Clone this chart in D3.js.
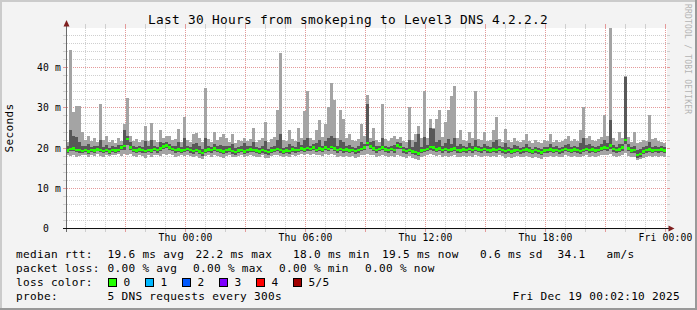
<!DOCTYPE html>
<html>
<head>
<meta charset="utf-8">
<script src="https://cdn.jsdelivr.net/npm/d3@7"></script>
<style>
  body { margin: 0; background: #f3f3f3; }
  text { font-family: "DejaVu Sans Mono", monospace; fill: #000; }
</style>
</head>
<body>
<div id="chart"></div>
<script>
// chart values
const title = "Last 30 Hours from smokeping to Level3 DNS 4.2.2.2";
const endTime = "2025-12-19 00:02:10";
const stepMinutes = 9; // 200 columns over 30 hours
const yTicks = [0, 10, 20, 30, 40];
const yLabels = ["0", "10 m", "20 m", "30 m", "40 m"];

// five sorted pings per step (ms): lowest, 2nd, median, 4th, highest
const pMin = [
  18.2, 18.0, 18.3, 17.9, 18.1, 18.4, 18.2, 17.8, 18.3, 18.0, 18.5, 18.1, 17.9, 18.3, 18.0, 18.4, 18.2, 18.5, 18.1, 18.6,
  18.4, 18.6, 18.0, 17.8, 18.2, 18.1, 17.6, 18.3, 17.9, 18.2, 18.4, 18.0, 18.5, 18.3, 18.6, 18.2, 17.9, 18.1, 18.3, 18.0,
  18.2, 18.0, 17.7, 18.1, 17.5, 17.2, 18.0, 18.3, 17.9, 18.2, 18.1, 17.8, 17.6, 18.0, 18.3, 17.9, 17.7, 18.0, 18.2, 17.8,
  18.1, 18.3, 18.0, 17.7, 17.9, 18.2, 17.6, 17.5, 18.0, 18.2, 18.4, 18.0, 17.8, 18.1, 17.9, 18.3, 18.0, 18.2, 18.5, 18.3,
  18.5, 18.3, 18.6, 18.2, 18.4, 18.1, 18.5, 18.3, 18.6, 18.2, 17.9, 18.1, 17.8, 18.0, 17.7, 18.0, 17.6, 17.9, 18.2, 18.4,
  18.6, 18.4, 18.2, 17.9, 18.1, 18.3, 18.0, 17.8, 18.1, 17.9, 18.3, 18.1, 17.8, 17.6, 18.0, 17.5, 17.3, 17.1, 17.8, 18.0,
  18.2, 18.5, 18.3, 18.0, 18.2, 17.9, 18.1, 17.8, 18.0, 18.3, 17.9, 17.7, 18.0, 17.8, 18.1, 17.9, 18.2, 18.0, 17.8, 18.1,
  18.0, 17.8, 18.1, 17.9, 18.2, 18.0, 17.6, 17.9, 17.5, 17.8, 18.0, 17.7, 17.9, 18.1, 17.8, 17.5, 17.9, 17.6, 17.3, 17.8,
  17.9, 18.1, 17.8, 18.0, 17.7, 17.9, 18.2, 18.0, 17.8, 18.1, 17.9, 17.7, 18.0, 18.2, 17.9, 18.1, 17.8, 18.0, 18.3, 18.4,
  18.3, 18.6, 18.1, 17.8, 18.0, 18.3, 18.8, 18.1, 17.7, 17.9, 17.0, 17.2, 17.6, 17.9, 18.0, 17.8, 18.0, 17.9, 18.1, 17.9
];
const pLow = [
  18.9, 19.2, 19.3, 19.0, 18.9, 18.8, 19.1, 18.6, 19.0, 18.8, 19.2, 19.0, 18.7, 19.0, 18.6, 19.1, 18.9, 19.1, 19.5, 19.6,
  20.8, 19.5, 19.0, 18.8, 19.1, 18.9, 18.7, 19.0, 18.8, 19.2, 18.9, 19.3, 19.8, 20.0, 19.6, 19.2, 18.9, 19.1, 18.8, 19.0,
  19.2, 18.9, 18.6, 19.0, 18.5, 18.1, 18.8, 19.1, 18.9, 19.3, 19.0, 18.7, 18.5, 18.9, 19.1, 18.6, 18.4, 18.8, 19.0, 18.5,
  18.9, 19.1, 19.0, 18.7, 18.6, 18.9, 18.6, 18.4, 18.8, 19.0, 19.2, 18.9, 18.6, 18.8, 18.6, 19.1, 18.9, 19.0, 19.3, 19.1,
  19.4, 19.2, 19.6, 19.0, 19.3, 19.1, 19.5, 19.2, 19.7, 19.3, 18.9, 19.2, 18.8, 19.1, 18.7, 19.0, 18.6, 18.9, 19.2, 19.6,
  20.5, 19.7, 19.3, 18.9, 19.2, 19.5, 19.0, 18.8, 19.2, 18.9, 19.9, 19.7, 18.8, 18.6, 19.0, 18.5, 18.3, 18.0, 18.7, 19.0,
  19.2, 19.6, 19.4, 19.0, 19.3, 18.9, 19.2, 18.8, 19.0, 19.3, 18.9, 18.7, 19.1, 18.8, 19.2, 18.9, 19.3, 19.0, 18.8, 19.2,
  18.9, 18.7, 19.1, 18.8, 19.2, 18.9, 18.6, 18.9, 18.5, 18.7, 19.0, 18.6, 18.8, 19.1, 18.7, 18.5, 18.9, 18.6, 18.2, 18.7,
  18.8, 19.1, 18.7, 19.0, 18.6, 18.9, 19.2, 19.0, 18.7, 19.1, 18.8, 18.6, 19.0, 19.2, 18.8, 19.1, 18.7, 19.0, 19.3, 19.6,
  19.4, 19.9, 19.1, 18.8, 19.0, 19.4, 21.0, 19.2, 18.7, 18.9, 17.6, 17.9, 18.5, 18.8, 19.1, 18.7, 19.0, 18.8, 19.1, 18.7
];
const median = [
  19.4, 19.8, 19.9, 19.6, 19.5, 19.3, 19.6, 19.2, 19.5, 19.4, 19.7, 19.6, 19.3, 19.5, 19.2, 19.6, 19.4, 19.6, 20.1, 20.5,
  22.2, 20.2, 19.6, 19.4, 19.7, 19.5, 19.3, 19.6, 19.4, 19.8, 19.5, 19.9, 20.4, 20.6, 20.2, 19.8, 19.5, 19.7, 19.4, 19.6,
  19.8, 19.5, 19.3, 19.6, 19.2, 18.8, 19.4, 19.7, 19.5, 19.9, 19.6, 19.4, 19.2, 19.5, 19.7, 19.3, 19.1, 19.4, 19.6, 19.2,
  19.5, 19.7, 19.6, 19.4, 19.2, 19.5, 19.3, 19.1, 19.4, 19.6, 19.8, 19.5, 19.2, 19.4, 19.3, 19.7, 19.5, 19.6, 19.9, 19.7,
  20.0, 19.8, 20.2, 19.6, 19.9, 19.7, 20.1, 19.8, 20.3, 19.9, 19.6, 19.8, 19.5, 19.7, 19.4, 19.6, 19.3, 19.5, 19.8, 20.2,
  21.3, 20.4, 19.9, 19.6, 19.8, 20.1, 19.7, 19.5, 19.8, 19.6, 20.6, 20.3, 19.5, 19.3, 19.6, 19.2, 19.0, 18.7, 19.4, 19.6,
  19.8, 20.3, 20.1, 19.7, 19.9, 19.6, 19.8, 19.5, 19.7, 19.9, 19.6, 19.4, 19.7, 19.5, 19.8, 19.6, 19.9, 19.7, 19.5, 19.8,
  19.6, 19.4, 19.7, 19.5, 19.8, 19.6, 19.3, 19.5, 19.2, 19.4, 19.6, 19.3, 19.5, 19.7, 19.4, 19.2, 19.5, 19.3, 18.9, 19.4,
  19.5, 19.7, 19.4, 19.6, 19.3, 19.5, 19.8, 19.6, 19.4, 19.7, 19.5, 19.3, 19.6, 19.8, 19.5, 19.7, 19.4, 19.6, 19.9, 20.2,
  20.0, 20.6, 19.8, 19.5, 19.7, 20.1, 22.0, 19.9, 19.4, 19.6, 18.3, 18.6, 19.2, 19.5, 19.7, 19.4, 19.6, 19.5, 19.7, 19.4
];
const pHigh = [
  20.5, 24.5, 23.0, 22.8, 21.5, 20.6, 20.4, 21.0, 20.3, 20.6, 20.5, 22.0, 20.2, 20.8, 20.0, 20.5, 20.2, 20.7, 20.8, 24.5,
  23.0, 21.5, 20.4, 20.3, 20.5, 20.2, 21.8, 20.4, 22.0, 20.6, 20.3, 21.5, 21.2, 21.5, 21.0, 20.6, 20.4, 21.6, 20.2, 22.5,
  20.6, 20.3, 21.0, 21.2, 20.4, 19.8, 22.5, 20.5, 20.3, 21.0, 20.4, 20.8, 20.6, 20.4, 20.5, 21.0, 20.0, 20.3, 20.5, 21.2,
  20.4, 20.6, 21.5, 20.2, 20.0, 20.4, 21.8, 19.9, 20.3, 20.6, 22.0, 23.5, 20.1, 20.3, 21.0, 20.5, 20.3, 21.4, 20.8, 22.0,
  22.5, 20.6, 20.9, 21.2, 22.0, 20.5, 21.8, 22.4, 23.0, 22.6, 20.4, 22.0, 21.5, 20.5, 20.8, 20.3, 20.1, 20.4, 21.5, 21.0,
  31.0, 21.5, 21.8, 20.4, 20.5, 22.5, 20.5, 20.2, 20.6, 20.8, 21.4, 21.2, 20.3, 20.0, 22.0, 20.2, 21.5, 23.5, 20.3, 22.8,
  20.7, 25.0, 24.8, 21.5, 22.0, 20.6, 21.3, 22.2, 21.0, 22.5, 20.5, 21.0, 20.4, 20.3, 21.2, 20.6, 22.0, 20.5, 20.3, 21.0,
  20.4, 20.2, 21.5, 22.0, 20.6, 20.3, 21.2, 20.3, 20.0, 20.8, 20.4, 20.1, 20.3, 21.0, 20.2, 19.9, 20.3, 20.1, 19.8, 20.2,
  20.3, 21.0, 20.2, 20.4, 20.1, 20.3, 20.7, 20.9, 20.2, 20.6, 20.3, 21.2, 22.5, 20.8, 21.0, 20.5, 20.2, 20.6, 21.0, 22.0,
  21.2, 27.0, 20.8, 20.3, 21.0, 21.0, 37.7, 20.9, 20.2, 20.5, 19.5, 19.8, 20.2, 20.4, 21.5, 20.3, 20.6, 20.3, 20.5, 20.2
];
const pMax = [
  21.5, 44.5, 29.0, 30.5, 30.5, 24.0, 22.0, 23.0, 21.8, 22.5, 21.6, 31.0, 22.0, 23.0, 21.4, 22.0, 21.3, 22.5, 21.8, 26.0,
  32.4, 23.0, 21.8, 22.2, 21.5, 22.0, 25.5, 21.7, 26.2, 22.0, 21.6, 24.5, 22.4, 23.0, 23.0, 21.9, 22.3, 24.7, 21.5, 27.8,
  22.0, 21.5, 23.5, 23.8, 22.6, 21.4, 34.9, 22.3, 21.6, 24.0, 21.9, 22.8, 23.4, 22.5, 21.5, 23.5, 21.3, 22.0, 21.7, 22.6,
  21.8, 22.3, 25.0, 21.6, 22.0, 22.5, 26.6, 21.5, 22.2, 22.8, 29.5, 43.7, 22.0, 21.7, 24.5, 22.3, 21.8, 25.0, 22.4, 29.3,
  34.3, 22.5, 22.0, 24.5, 27.0, 22.8, 26.0, 30.3, 36.3, 32.0, 22.6, 29.5, 27.3, 22.4, 23.5, 22.0, 21.7, 22.3, 26.0, 23.0,
  33.2, 22.6, 25.0, 22.0, 21.6, 30.9, 22.3, 21.8, 22.5, 23.0, 22.2, 22.8, 21.7, 21.5, 30.2, 22.0, 23.5, 25.5, 22.4, 34.3,
  22.4, 27.2, 25.0, 27.2, 29.5, 22.8, 26.5, 29.5, 33.0, 35.5, 22.6, 24.5, 22.0, 21.8, 24.0, 22.4, 34.1, 22.3, 21.9, 24.0,
  21.8, 22.0, 24.5, 27.8, 22.2, 21.6, 24.7, 21.9, 21.4, 22.5, 21.7, 21.5, 22.0, 23.5, 21.8, 21.3, 22.0, 21.6, 21.2, 21.9,
  21.7, 23.5, 21.6, 22.0, 21.5, 21.8, 22.3, 23.0, 21.7, 22.2, 21.8, 24.5, 30.2, 22.4, 23.0, 22.0, 21.7, 22.3, 22.8, 28.2,
  23.0, 49.9, 22.4, 21.8, 24.0, 22.5, 38.0, 22.8, 21.6, 24.0, 21.2, 21.4, 22.0, 21.8, 28.2, 22.3, 22.5, 21.7, 21.5, 21.3
];

const legendRtt = ["median rtt:", "19.6 ms avg", "22.2 ms max", "18.0 ms min", "19.5 ms now", "0.6 ms sd", "34.1", "am/s"];
const legendLoss = ["packet loss:", "0.00 % avg", "0.00 % max", "0.00 % min", "0.00 % now"];
const lossLabels = ["0", "1", "2", "3", "4", "5/5"];
const lossColors = ["#22ff00", "#00b8ff", "#0059ff", "#7e00ff", "#ff0000", "#a00000"];
const probeText = "5 DNS requests every 300s";
const stampText = "Fri Dec 19 00:02:10 2025";

const W = 697, H = 310;
const svg = d3.select("#chart").append("svg")
  .attr("width", W).attr("height", H)
  .style("display", "block");

// background + 3d border
svg.append("rect").attr("width", W).attr("height", H).attr("fill", "#f3f3f3");
svg.append("path").attr("d", "M0,0H697V2H2V310H0Z").attr("fill", "#cbcbcb");
svg.append("path").attr("d", "M697,0V310H0V308H695V0Z").attr("fill", "#999999");

// canvas
svg.append("rect").attr("x", 67).attr("y", 28).attr("width", 600).attr("height", 200).attr("fill", "#fff");

const parse = d3.timeParse("%Y-%m-%d %H:%M:%S");
const end = parse(endTime);
const start = d3.timeHour.offset(end, -30);
const times = d3.range(median.length + 1).map((i) => d3.timeMinute.offset(start, i * stepMinutes));

const x = d3.scaleTime().domain([start, end]).range([66, 666]);
const y = d3.scaleLinear().domain([0, 50]).range([228.5, 27.5]);
const px = (v) => Math.floor(v) + 0.5;

// grid
const grid = svg.append("g").attr("shape-rendering", "crispEdges");
const hMinor = d3.range(2, 50, 2).filter((v) => v % 10 !== 0);
const hMajor = [10, 20, 30, 40];

function hLine(v, color) {
  const yy = px(y(v));
  grid.append("line").attr("x1", 67).attr("x2", 667).attr("y1", yy).attr("y2", yy)
    .attr("stroke", color).attr("stroke-dasharray", "1,1");
  grid.append("line").attr("x1", 63).attr("x2", 66).attr("y1", yy).attr("y2", yy).attr("stroke", color);
  grid.append("line").attr("x1", 667).attr("x2", 670).attr("y1", yy).attr("y2", yy).attr("stroke", color);
}
hMinor.forEach((v) => hLine(v, "#cfcfcf"));
hMajor.forEach((v) => hLine(v, "#e49a9a"));

const hours = d3.timeHour.every(1).range(start, end);
hours.forEach((t) => {
  const xx = px(x(t));
  const color = t.getHours() % 3 === 0 ? "#e49a9a" : "#cfcfcf";
  grid.append("line").attr("x1", xx).attr("x2", xx).attr("y1", 28).attr("y2", 228)
    .attr("stroke", color).attr("stroke-dasharray", "1,1");
  grid.append("line").attr("x1", xx).attr("x2", xx).attr("y1", 229).attr("y2", 232).attr("stroke", color);
  grid.append("line").attr("x1", xx).attr("x2", xx).attr("y1", 24).attr("y2", 28).attr("stroke", color);
});

// smoke
const idx = d3.range(median.length);
const colX = (i) => Math.round(x(times[i]));
const colW = (i) => Math.round(x(times[i + 1])) - Math.round(x(times[i]));
const smoke = svg.append("g").attr("shape-rendering", "crispEdges");

smoke.selectAll("rect.outer").data(idx).join("rect").attr("class", "outer")
  .attr("x", colX).attr("width", colW)
  .attr("y", (i) => y(pMax[i])).attr("height", (i) => y(pMin[i]) - y(pMax[i]))
  .attr("fill", "#a4a4a4");

smoke.selectAll("rect.inner").data(idx).join("rect").attr("class", "inner")
  .attr("x", colX).attr("width", colW)
  .attr("y", (i) => y(pHigh[i])).attr("height", (i) => y(pLow[i]) - y(pHigh[i]))
  .attr("fill", "#585858");

smoke.selectAll("rect.med").data(idx).join("rect").attr("class", "med")
  .attr("x", colX).attr("width", colW)
  .attr("y", (i) => y(median[i] + 0.3)).attr("height", (i) => y(median[i] - 0.3) - y(median[i] + 0.3))
  .attr("fill", lossColors[0]);

// axes
const axes = svg.append("g").attr("shape-rendering", "crispEdges");
axes.append("line").attr("x1", 66.5).attr("x2", 66.5).attr("y1", 24).attr("y2", 232).attr("stroke", "#6a6a6a");
axes.append("line").attr("x1", 63).attr("x2", 670).attr("y1", 228.5).attr("y2", 228.5).attr("stroke", "#111");
svg.append("path").attr("d", "M63.5,26.5L66.5,20L69.5,26.5Z").attr("fill", "#7f1f1f");
svg.append("path").attr("d", "M668.5,225.5L674.5,228.5L668.5,231.5Z").attr("fill", "#7f1f1f");

// tick labels
svg.selectAll("text.ylab").data(yTicks).join("text").attr("class", "ylab")
  .attr("x", (d, i) => (yLabels[i].length === 1 ? 49 : 61))
  .attr("y", (d) => px(y(d)) + 3.5)
  .attr("text-anchor", "end")
  .style("font-size", "9.7px").style("letter-spacing", "0.15px")
  .text((d, i) => yLabels[i]);

const fmt = d3.timeFormat("%a %H:%M");
svg.selectAll("text.xlab").data(d3.timeHour.every(6).range(start, end)).join("text").attr("class", "xlab")
  .attr("x", (d) => px(x(d)))
  .attr("y", 240.5)
  .attr("text-anchor", "middle")
  .style("font-size", "9.7px").style("letter-spacing", "0.15px")
  .text(fmt);

// title, unit, watermark
svg.append("text").attr("x", 348).attr("y", 24).attr("text-anchor", "middle")
  .style("font-size", "12.8px").style("letter-spacing", "0.3px").text(title);

svg.append("text").attr("transform", "translate(13,128) rotate(-90)").attr("text-anchor", "middle")
  .style("font-size", "11px").style("letter-spacing", "0.35px").text("Seconds");

svg.append("text").attr("transform", "translate(685,4) rotate(90)")
  .style("font-size", "8px").style("letter-spacing", "0.2px").style("fill", "#b4b4b4")
  .text("RRDTOOL / TOBI OETIKER");

// legend
const legend = svg.append("g").style("font-size", "11.1px").style("letter-spacing", "0.3px");
const rttX = [16, 107.5, 195.5, 293, 382, 480, 557.5, 606.5];
legendRtt.forEach((s, i) => legend.append("text").attr("x", rttX[i]).attr("y", 258).text(s));
const lossX = [16, 107.5, 193, 279, 365];
legendLoss.forEach((s, i) => legend.append("text").attr("x", lossX[i]).attr("y", 272).text(s));
legend.append("text").attr("x", 16).attr("y", 286).text("loss color:");
lossLabels.forEach((s, i) => {
  const bx = 108.5 + i * 37;
  legend.append("rect").attr("x", bx).attr("y", 278.5).attr("width", 8).attr("height", 8)
    .attr("fill", lossColors[i]).attr("stroke", "#000").attr("shape-rendering", "crispEdges");
  legend.append("text").attr("x", bx + 15).attr("y", 286).text(s);
});
legend.append("text").attr("x", 16).attr("y", 300).text("probe:");
legend.append("text").attr("x", 107.5).attr("y", 300).text(probeText);
legend.append("text").attr("x", 680).attr("y", 300).attr("text-anchor", "end").text(stampText);
</script>
</body>
</html>
